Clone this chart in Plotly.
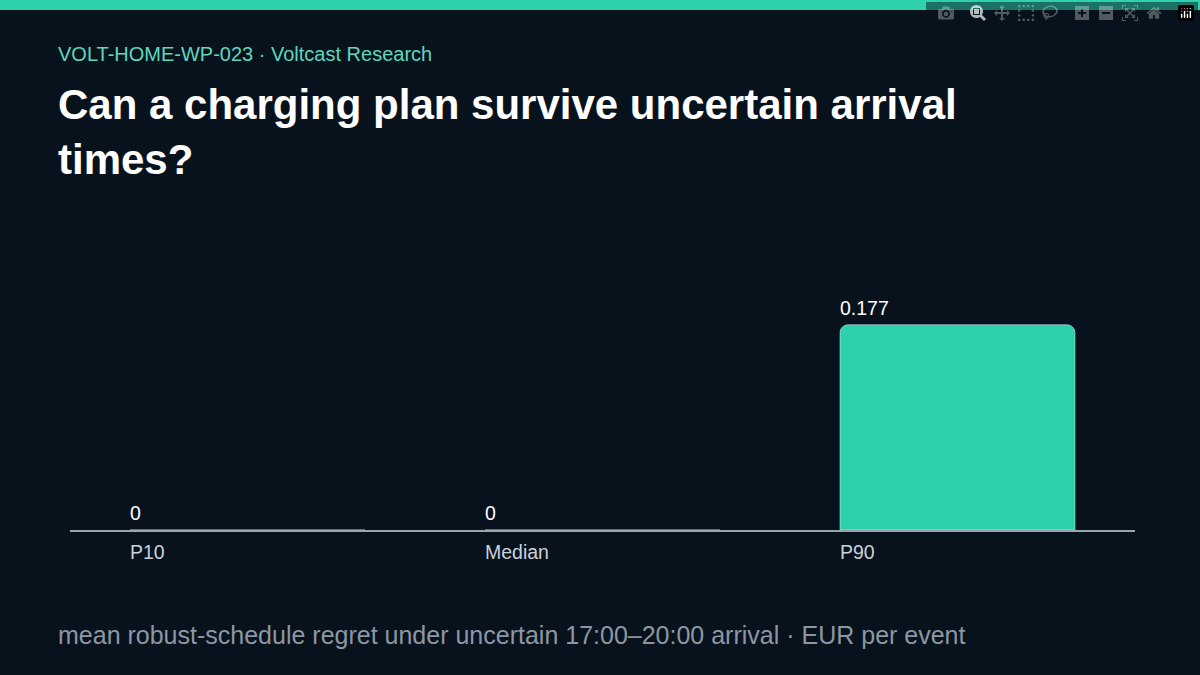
import plotly.graph_objects as go

categories = ["P10", "Median", "P90"]
values = [0, 0, 0.177]
value_labels = ["0", "0", "0.177"]

teal = "#2fd1ad"
bg = "#08121d"

fig = go.Figure(go.Bar(x=categories, y=values, marker=dict(color=teal, cornerradius=8),
                       width=0.662, hoverinfo="skip"))

ann = []
for c, v, t in zip(categories, values, value_labels):
    ann.append(dict(x=c, y=v, xref="x", yref="y", text=t, showarrow=False,
                    xanchor="left", yanchor="bottom", xshift=-120, yshift=4,
                    font=dict(size=19.5, color="#ffffff")))
    ann.append(dict(x=c, y=0, xref="x", yref="y", text=c, showarrow=False,
                    xanchor="left", yanchor="top", xshift=-120, yshift=-9,
                    font=dict(size=19.5, color="#c9d1d9")))
ann += [
    dict(x=56, y=675-54, xref="paper", yref="paper", text="VOLT-HOME-WP-023 · Voltcast Research",
         showarrow=False, xanchor="left", yanchor="middle", font=dict(size=20, color="#5fd6bd")),
    dict(x=56, y=675-132, xref="paper", yref="paper",
         text="<b>Can a charging plan survive uncertain arrival<br>times?</b>",
         showarrow=False, xanchor="left", yanchor="middle", align="left",
         font=dict(size=42, color="#ffffff")),
    dict(x=56, y=675-635, xref="paper", yref="paper",
         text="mean robust-schedule regret under uncertain 17:00–20:00 arrival · EUR per event",
         showarrow=False, xanchor="left", yanchor="middle", font=dict(size=25, color="#8c97a3")),
]
W, H = 1200, 675
ml, mr, mt, mb = 70, 65, 298, 145
pw, ph = W - ml - mr, H - mt - mb
for a in ann:
    if a["xref"] == "paper":
        a["x"] = (a["x"] - ml) / pw
        a["y"] = (a["y"] - mb) / ph

fig.update_layout(
    width=W, height=H, paper_bgcolor=bg, plot_bgcolor=bg,
    margin=dict(l=ml, r=mr, t=mt, b=mb),
    font=dict(family="Liberation Sans, Arial, sans-serif"),
    xaxis=dict(range=[-0.5, 2.5], showticklabels=False, showgrid=False, zeroline=False,
               showline=True, linecolor="#9aa4ae", linewidth=1.5, ticks=""),
    yaxis=dict(range=[0, 0.2], visible=False),
    annotations=ann, showlegend=False,
    shapes=[dict(type="rect", xref="paper", yref="paper", x0=-1, x1=2,
                 y0=(H - 10 - mb) / ph, y1=(H - mb) / ph + 1, fillcolor=teal, line_width=0)],
)
fig.write_html("out.html", post_script="document.body.style.margin='0';document.body.style.background='%s';" % bg)
